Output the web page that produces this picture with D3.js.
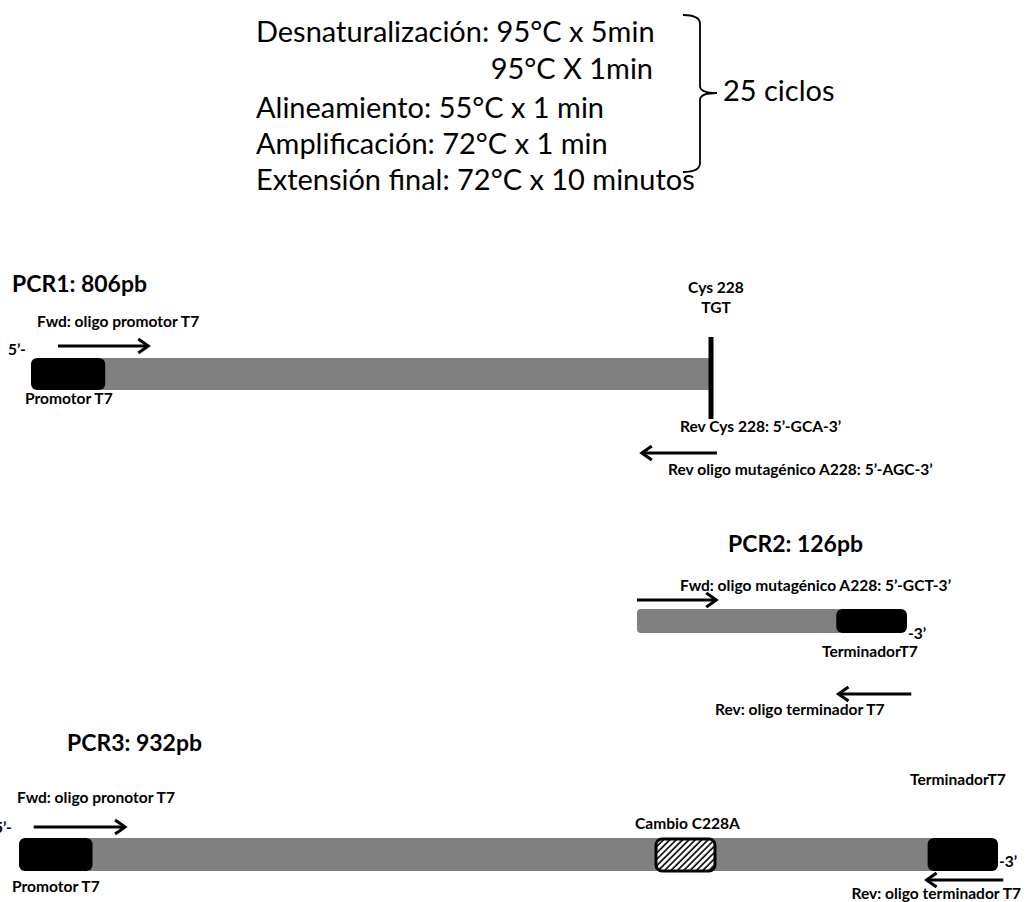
<!DOCTYPE html>
<html>
<head>
<meta charset="utf-8">
<script src="https://cdn.jsdelivr.net/npm/d3@7"></script>
<style>
  html, body { margin: 0; padding: 0; background: #fff; }
  svg { display: block; }
</style>
</head>
<body>
<div id="wrapper"></div>
<script>
// ---- data ----
const protocolSteps = [
    'Desnaturalización: 95°C x 5min',
    '95°C X 1min',
    'Alineamiento: 55°C x 1 min',
    'Amplificación: 72°C x 1 min',
    'Extensión final: 72°C x 10 minutos'
];
const cycleLabel = '25 ciclos';

const productTitles = ['PCR1: 806pb', 'PCR2: 126pb', 'PCR3: 932pb'];
const productLengths = [806, 126, 932];

// segments along each product, in bp
const pcr1Segments = [
    { kind: 'body', start: 88, end: 806 },
    { kind: 'promoter', start: 0, end: 88 }
];
const pcr2Segments = [
    { kind: 'body', start: 0, end: 93 },
    { kind: 'terminator', start: 93, end: 126 }
];
const pcr3Segments = [
    { kind: 'body', start: 70, end: 865 },
    { kind: 'promoter', start: 0, end: 70 },
    { kind: 'terminator', start: 865, end: 932 },
    { kind: 'mutation', start: 605, end: 664 }
];

// primers: from -> to (arrow points at "to"), in bp
const pcr1Primers = [
    { name: 'Fwd: oligo promotor T7', from: 32, to: 139 },
    { name: 'Rev oligo mutagénico A228: 5’-AGC-3’', from: 813, to: 724 }
];
const pcr2Primers = [
    { name: 'Fwd: oligo mutagénico A228: 5’-GCT-3’', from: 0, to: 37 },
    { name: 'Rev: oligo terminador T7', from: 128, to: 94 }
];
const pcr3Primers = [
    { name: 'Fwd: oligo pronotor T7', from: 14, to: 101 },
    { name: 'Rev: oligo terminador T7', from: 937, to: 864 }
];

const pcr1Site = 806;

// ---- layout ----
const width = 1026;
const height = 902;

const rows = [
    { x0: 31, x1: 711, barY: 358, barH: 32 },
    { x0: 637, x1: 907, barY: 609, barH: 24 },
    { x0: 19, x1: 998, barY: 838, barH: 33 }
];
const arrowY = [[346, 453], [600, 694], [827, 880]];

const colors = { body: '#808080', promoter: '#000', terminator: '#000' };

const svg = d3.select('#wrapper').append('svg')
    .attr('width', width)
    .attr('height', height);

svg.append('rect').attr('width', width).attr('height', height).attr('fill', '#fff');

const defs = svg.append('defs');
const hatch = defs.append('pattern')
    .attr('id', 'hatch')
    .attr('patternUnits', 'userSpaceOnUse')
    .attr('width', 4.5)
    .attr('height', 4.5)
    .attr('patternTransform', 'rotate(45)');
hatch.append('rect').attr('width', 4.5).attr('height', 4.5).attr('fill', '#fff');
hatch.append('line')
    .attr('x1', 1).attr('x2', 1).attr('y1', 0).attr('y2', 4.5)
    .attr('stroke', '#000').attr('stroke-width', 1.6);

const FONT = 'Lato, "Open Sans", sans-serif';

// pick a font size so a reference string fills a measured width
function fitSize(str, weight, targetW) {
    const t = svg.append('text')
        .style('font-family', FONT)
        .style('font-weight', weight)
        .attr('font-size', 100)
        .text(str);
    const w = t.node().getComputedTextLength();
    t.remove();
    return 100 * targetW / w;
}

const bigSize = fitSize(protocolSteps[4], 400, 439);
const titleSize = fitSize(productTitles[0], 700, 135);
const smallSize = fitSize('Rev oligo mutagénico A228: 5’-AGC-3’', 700, 265);

function label(x, y, str, size, weight, anchor) {
    return svg.append('text')
        .attr('x', x)
        .attr('y', y)
        .attr('text-anchor', anchor || 'start')
        .style('font-family', FONT)
        .style('font-weight', weight)
        .attr('font-size', size)
        .attr('fill', '#000')
        .text(str);
}

// ---- protocol block ----
const stepY = [42, 79, 118, 154, 190];
protocolSteps.forEach((s, i) => {
    if (i === 1) label(653, stepY[i], s, bigSize, 400, 'end');
    else label(256, stepY[i], s, bigSize, 400);
});

const bx = 700;
svg.append('path')
    .attr('d', `M683,15 Q${bx},15 ${bx},24 L${bx},86 Q${bx},93 717,93 Q${bx},93 ${bx},100 L${bx},163 Q${bx},172 683,172`)
    .attr('fill', 'none')
    .attr('stroke', '#000')
    .attr('stroke-width', 1.8);
label(723, 101, cycleLabel, bigSize, 400);

// ---- products ----
const segSets = [pcr1Segments, pcr2Segments, pcr3Segments];
const primerSets = [pcr1Primers, pcr2Primers, pcr3Primers];

const scales = rows.map((r, i) => d3.scaleLinear()
    .domain([0, productLengths[i]])
    .range([r.x0, r.x1]));

function arrow(x1, x2, y) {
    const g = svg.append('g')
        .attr('stroke', '#000')
        .attr('fill', 'none')
        .attr('stroke-width', 3);
    const dir = x2 > x1 ? 1 : -1;
    g.append('line').attr('x1', x1).attr('x2', x2 - dir * 1).attr('y1', y).attr('y2', y);
    g.append('path')
        .attr('d', `M${x2 - dir * 10},${y - 7} L${x2},${y} L${x2 - dir * 10},${y + 7}`)
        .attr('stroke-linejoin', 'miter');
}

segSets.forEach((segs, i) => {
    const x = scales[i];
    const r = rows[i];
    const len = productLengths[i];
    segs.forEach(s => {
        const x0 = x(s.start), x1 = x(s.end);
        if (s.kind === 'body') {
            // tuck under neighbouring blocks
            const padL = s.start > 0 ? 6 : 0;
            const padR = s.end < len ? 6 : 0;
            svg.append('rect')
                .attr('x', x0 - padL).attr('y', r.barY)
                .attr('width', x1 - x0 + padL + padR).attr('height', r.barH)
                .attr('rx', 4)
                .attr('fill', colors.body);
        } else if (s.kind === 'mutation') {
            svg.append('rect')
                .attr('x', x0 + 1.5).attr('y', r.barY + 1)
                .attr('width', x1 - x0 - 3).attr('height', r.barH - 1)
                .attr('rx', 6)
                .attr('fill', 'url(#hatch)')
                .attr('stroke', '#000')
                .attr('stroke-width', 3);
        } else {
            svg.append('rect')
                .attr('x', x0).attr('y', r.barY)
                .attr('width', x1 - x0).attr('height', r.barH)
                .attr('rx', 6)
                .attr('fill', colors[s.kind]);
        }
    });
    primerSets[i].forEach((p, j) => arrow(x(p.from), x(p.to), arrowY[i][j]));
});

// cysteine site marker on PCR1
svg.append('line')
    .attr('x1', scales[0](pcr1Site)).attr('x2', scales[0](pcr1Site))
    .attr('y1', 337).attr('y2', 419)
    .attr('stroke', '#000')
    .attr('stroke-width', 5);

// ---- labels ----
label(12, 292, productTitles[0], titleSize, 700);
label(37, 327, pcr1Primers[0].name, smallSize, 700);
label(8, 355, '5’-', smallSize, 700);
label(25, 404, 'Promotor T7', smallSize, 700);
label(716, 293, 'Cys 228', smallSize, 700, 'middle');
label(716, 313, 'TGT', smallSize, 700, 'middle');
label(680, 432, 'Rev Cys 228: 5’-GCA-3’', smallSize, 700);
label(668, 475, pcr1Primers[1].name, smallSize, 700);

label(728, 552, productTitles[1], titleSize, 700);
label(680, 591, pcr2Primers[0].name, smallSize, 700);
label(908, 639, '-3’', smallSize, 700);
label(822, 657, 'TerminadorT7', smallSize, 700);
label(715, 715, pcr2Primers[1].name, smallSize, 700);

label(67, 751, productTitles[2], titleSize, 700);
label(17, 803, pcr3Primers[0].name, smallSize, 700);
label(-6, 833, '5’-', smallSize, 700);
label(12, 892, 'Promotor T7', smallSize, 700);
label(635, 829, 'Cambio C228A', smallSize, 700);
label(910, 785, 'TerminadorT7', smallSize, 700);
label(999, 867, '-3’', smallSize, 700);
label(1021, 899, pcr3Primers[1].name, smallSize, 700, 'end');
</script>
</body>
</html>
